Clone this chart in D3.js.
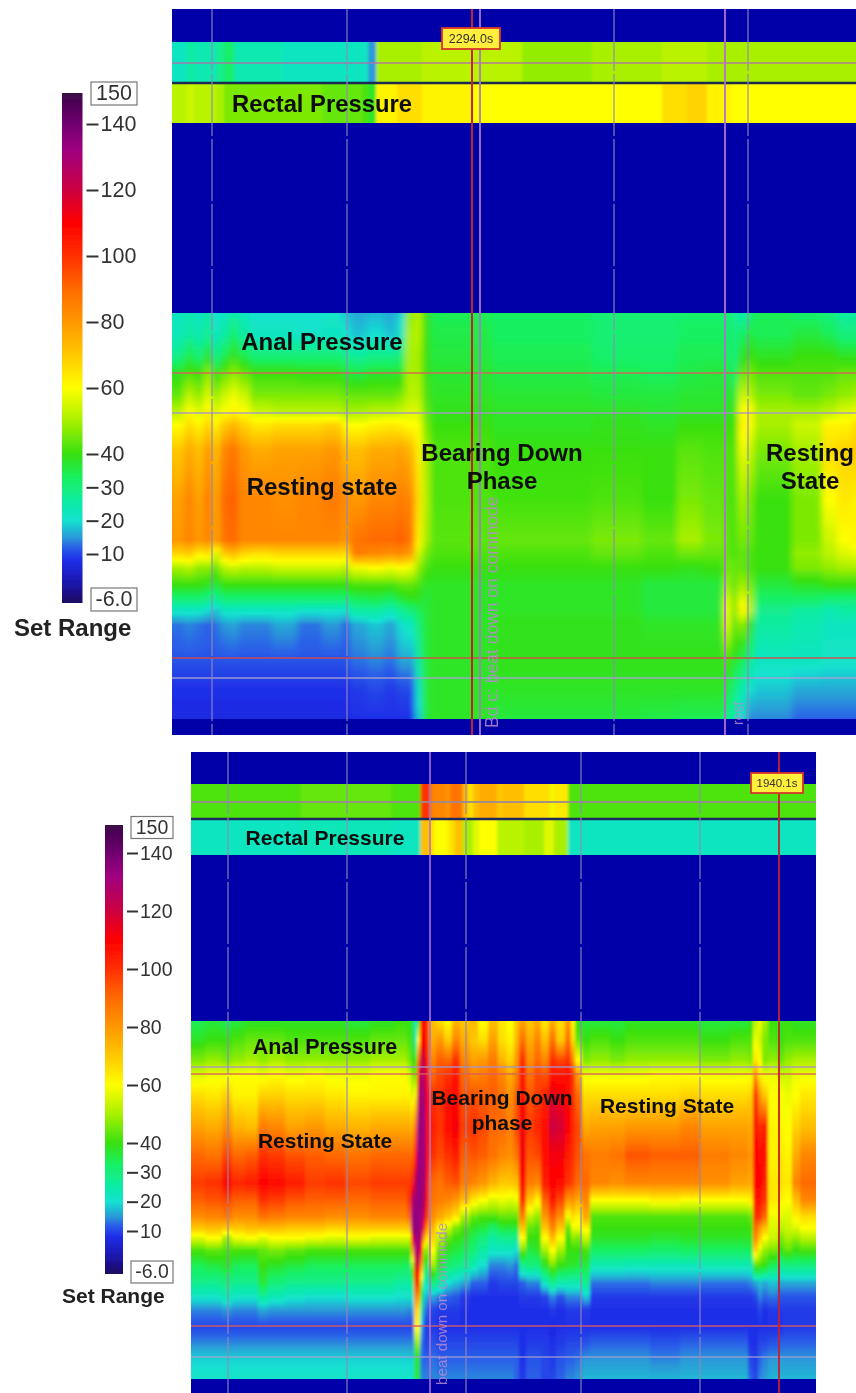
<!DOCTYPE html>
<html><head><meta charset="utf-8">
<script src="https://cdnjs.cloudflare.com/ajax/libs/d3/7.8.5/d3.min.js"></script>
<style>html,body{margin:0;padding:0;background:#fff}svg{display:block}text{font-family:"Liberation Sans",Arial,sans-serif}</style>
</head><body><svg id="c" width="856" height="1393"></svg>
<script>
// ---------- colour legend ----------
const colorValues=[-6,0,8,12,15,20,26,33,40,50,60,70,80,90,100,110,120,132,140,150];
const colorHexes=['#1c0a5e','#1a14a8','#1f2ee8','#2a60e8','#2a9ad8','#12e2d0','#10eca0','#18f060','#38e010','#a8f000','#ffff00','#ffc800','#ff9800','#ff6a00','#ff3000','#ff0000','#cc0040','#a00080','#700070','#3c0848'];
const legendTicks=[140,120,100,80,60,40,30,20,10];
const legendBreaks=[-6,10,40,140,150];

// ---------- first recording: rectal strip ----------
const rectal1Samples=[0,15,22,45,52,62,110,150,190,196,204,225,250,300,350,420,490,515,535,560];
const rectal1Upper=[22,26,24,28,32,24,22,22,22,15,50,50,52,52,48,50,52,52,50,50];
const rectal1Lower=[52,54,52,50,46,46,46,44,42,38,62,66,62,60,60,60,66,68,62,60];

// ---------- first recording: anal channels (sensor depth) ----------
const anal1Depths=[0,22,42,60,82,99,112,137,187,227,240,255,272,287,297,312,347,377,406];
const anal1Samples=[0,12,22,32,40,48,58,66,78,100,125,150,170,178,195,212,225,233,243,250,258,320,420,470,505,530,552,558,566,574,582,620,650,665,680];
const anal1Values=[
[22,23,28,38,44,52,60,70,78,80,68,50,40,30,22,13,11,8,7],
[24,26,34,42,52,60,66,76,84,84,70,52,40,30,22,14,11,8,7],
[22,24,30,40,48,56,62,72,78,80,64,48,40,30,22,13,11,8,7],
[26,28,38,48,56,62,68,80,86,84,66,48,38,28,20,12,11,8,7],
[20,22,28,38,48,56,62,72,78,78,56,44,36,26,18,13,11,8,7],
[22,26,34,44,54,60,70,84,90,88,70,52,40,30,22,15,11,8,7],
[26,32,40,48,58,62,74,88,92,90,74,54,40,30,22,16,11,8,7],
[22,26,34,44,54,60,68,80,84,84,68,52,40,30,22,14,11,8,7],
[20,22,30,40,46,54,64,76,84,84,66,52,40,30,22,14,11,8,7],
[20,22,30,40,46,52,66,78,82,84,68,54,40,30,22,16,11,8,7],
[20,21,30,39,46,52,66,78,84,84,68,54,40,30,21,13,11,8,7],
[21,22,30,39,46,52,68,80,86,84,68,54,40,30,21,15,11,8,7],
[18,21,28,37,44,50,60,72,82,80,66,52,40,30,21,12,11,8,7],
[16,18,26,35,44,50,60,72,80,88,86,58,42,33,26,16,13,9,8],
[17,20,28,37,44,52,62,76,84,90,84,60,42,34,26,18,14,10,8],
[16,18,28,37,44,52,64,76,84,90,82,58,42,32,24,16,13,9,8],
[19,22,30,37,46,54,62,78,86,92,84,60,44,36,28,20,16,10,8],
[48,50,50,50,52,56,60,74,84,88,80,58,44,38,30,22,16,10,8],
[52,52,50,50,52,56,60,62,66,62,56,48,42,38,34,30,26,22,18],
[40,40,40,40,42,44,46,50,52,50,46,42,38,36,36,36,36,36,36],
[34,35,36,37,38,39,40,42,42,43,42,40,38,38,38,38,38,38,38],
[33,33,34,35,37,38,38,40,41,44,42,40,38,38,38,39,39,38,36],
[31,31,32,34,36,38,39,40,42,46,44,40,38,38,38,39,39,38,36],
[31,31,32,33,36,37,38,40,40,44,42,40,36,36,36,38,39,38,35],
[32,33,34,35,37,38,40,43,46,50,45,39,36,36,36,38,39,38,34],
[32,33,34,36,37,38,40,42,44,46,44,40,36,36,36,38,39,38,34],
[32,33,34,36,38,39,40,42,42,44,44,46,50,58,60,58,42,36,30],
[28,30,30,32,36,38,40,42,42,42,42,44,44,46,46,44,38,30,24],
[24,32,38,44,54,60,62,58,50,46,44,44,50,58,62,48,34,24,20],
[30,36,40,46,52,62,60,54,46,44,42,42,46,50,52,40,28,20,14],
[34,34,38,42,46,50,50,46,40,40,40,40,36,32,28,26,22,18,14],
[32,36,40,42,44,50,54,50,46,46,48,46,38,32,26,24,22,16,12],
[30,34,40,42,46,52,62,66,60,54,52,48,40,30,24,22,21,16,12],
[26,30,38,44,48,56,62,68,64,60,56,50,40,30,26,22,21,16,12],
[26,30,38,44,50,58,66,70,62,62,58,50,40,30,26,22,21,16,12]];

// ---------- second recording: rectal strip ----------
const rectal2Samples=[0,110,200,229.5,239,243,255,259,264,271.5,277.7,281.8,288,306,312,333,353,359,363,377];
const rectal2Upper=[42,44,42,100,85,84,80,88,88,72,64,72,76,70,72,66,66,58,64,42];
const rectal2Lower=[22,23,22,72,66,60,62,66,72,50,50,56,60,52,52,50,56,56,50,22];

// ---------- second recording: anal channels ----------
const anal2Depths=[0,19,39,54,74,106,134,162,179,196,207,217,229,244,262,276,289,306,322,339,358];
const anal2Samples=[0,14,31,41,54,67,77,94,114,134,154,179,204,216,220,223,226,229,232,235,238,245,253,261,269,279,287,297,307,315,323,328,335,343,350,358,365,374,380,384,391,399,419,434,459,489,509,539,557,562,567,571,577,587,593,601,609];
const anal2Values=[
[34,38,46,56,66,78,90,98,92,82,70,56,42,34,28,21,14,10,14,19,21],
[36,40,48,58,64,76,88,100,94,84,72,60,44,36,28,21,14,10,14,19,21],
[34,40,46,58,68,82,96,108,96,86,70,50,42,38,30,24,15,10,14,19,21],
[36,42,48,60,62,74,90,102,92,82,70,58,42,34,28,21,14,10,14,19,21],
[38,44,50,60,62,72,92,104,92,82,72,60,42,34,28,21,14,10,14,19,21],
[38,44,48,58,68,86,100,110,100,88,72,56,44,40,36,26,16,10,14,19,21],
[38,44,50,60,68,84,98,108,98,86,72,60,46,38,30,23,15,10,14,19,21],
[38,42,48,58,66,78,94,104,94,84,70,60,44,36,28,21,15,10,14,19,21],
[38,42,48,60,66,80,92,98,92,84,70,58,42,34,28,20,15,10,14,19,21],
[38,42,48,58,64,76,90,100,92,82,68,56,42,34,28,20,15,10,14,19,21],
[36,42,48,58,62,74,88,96,90,82,70,58,42,34,28,21,15,10,14,19,21],
[38,44,50,60,62,76,90,98,92,84,70,56,42,34,28,21,15,10,14,19,21],
[40,44,50,60,62,76,90,98,92,84,70,56,42,34,26,20,15,10,14,19,21],
[38,42,46,56,62,76,90,98,100,90,72,56,42,32,26,20,14,10,14,19,21],
[38,38,40,46,56,74,90,104,125,132,130,110,80,50,30,22,16,10,14,19,21],
[22,24,38,46,62,90,105,125,134,134,134,134,130,120,100,85,70,60,46,38,36],
[40,60,90,110,122,132,132,134,134,134,134,132,128,118,100,80,65,62,50,38,36],
[105,110,122,128,132,134,134,134,134,132,130,120,105,80,50,36,26,18,14,13,14],
[110,110,118,124,128,130,130,128,124,118,100,76,50,36,24,18,14,10,10,12,14],
[100,100,104,108,110,108,108,106,104,96,78,62,46,34,22,16,12,9,10,12,14],
[72,76,84,90,100,104,100,90,88,82,74,68,60,50,30,16,10,9,11,13,14],
[66,80,92,96,100,100,96,88,86,76,60,52,44,38,26,14,9,8,10,12,14],
[60,70,90,100,106,108,100,92,84,70,54,44,38,32,20,12,9,8,10,12,14],
[74,84,100,106,108,112,104,94,80,64,46,40,36,30,18,11,9,8,10,12,14],
[70,76,84,90,94,98,92,86,72,50,42,38,34,28,16,9,8,8,10,12,14],
[74,70,78,84,94,100,94,84,64,44,38,34,30,24,12,8,8,8,10,12,14],
[60,66,80,86,92,96,92,80,60,42,36,30,26,20,12,8,8,8,10,12,14],
[72,78,86,90,92,90,88,74,56,42,32,26,22,14,9,8,8,8,10,12,14],
[64,66,74,84,88,90,84,70,58,44,36,28,22,14,10,8,8,8,10,12,14],
[60,62,68,76,82,86,82,70,56,44,36,28,22,15,10,8,8,8,10,12,14],
[70,74,80,86,92,96,88,72,58,44,36,28,20,13,10,8,8,8,10,12,12],
[78,88,100,105,106,112,112,108,100,84,70,60,46,28,12,9,8,8,8,8,9],
[70,76,82,88,94,98,94,86,70,52,44,40,36,30,14,9,8,8,9,11,12],
[76,84,90,96,98,102,96,84,62,48,42,40,38,30,14,9,8,8,9,11,12],
[64,72,84,94,102,108,108,104,92,80,70,60,50,38,22,10,8,8,9,10,10],
[76,88,100,106,115,120,112,110,106,92,84,72,60,46,28,14,9,7,8,9,10],
[66,70,96,106,112,118,112,108,96,82,70,60,50,40,24,11,8,8,9,11,12],
[80,88,100,108,108,110,104,100,80,58,44,40,40,38,24,14,9,8,10,12,14],
[60,66,84,100,100,102,100,96,82,66,58,48,40,38,24,14,9,8,10,12,14],
[38,44,60,78,90,96,94,90,76,62,58,46,40,36,24,14,9,8,10,13,15],
[36,40,46,58,66,76,88,90,84,76,62,54,42,36,28,18,9,8,11,15,17],
[36,42,48,58,66,78,86,84,60,42,40,38,33,24,13,9,8,8,12,15,17],
[36,40,46,58,66,78,88,82,60,42,40,38,33,24,13,9,8,8,12,15,17],
[38,42,48,58,66,80,94,84,60,42,40,38,33,23,13,9,8,8,12,15,17],
[38,42,48,60,66,80,92,84,62,42,40,37,32,23,14,9,8,8,11,14,17],
[38,42,48,60,68,84,92,84,60,42,40,38,33,23,14,9,8,8,12,15,17],
[36,40,46,58,66,78,86,82,60,42,40,38,33,24,13,9,8,8,12,15,17],
[36,42,48,58,66,78,84,78,60,42,40,38,33,24,13,9,8,8,12,15,17],
[38,42,46,58,68,76,80,76,62,44,40,38,34,24,14,9,8,8,8,10,12],
[52,58,64,80,100,108,110,110,106,100,90,84,68,44,16,10,8,8,8,9,10],
[58,54,60,62,80,100,108,110,106,98,80,70,56,42,18,14,10,8,10,12,14],
[50,46,46,58,70,104,108,104,100,90,72,60,48,40,16,12,8,8,10,14,15],
[40,42,48,58,60,62,62,64,64,58,56,54,46,34,18,13,9,8,11,15,17],
[38,40,44,54,60,62,64,66,62,56,52,46,40,28,16,11,9,8,12,15,17],
[40,42,48,54,58,60,62,64,60,56,54,50,44,30,16,11,9,9,12,15,17],
[38,42,50,58,60,68,76,84,72,62,56,48,40,30,16,11,9,9,12,15,17],
[38,42,50,58,64,72,84,90,84,66,60,52,42,30,16,11,9,9,12,15,17]];

const svg=d3.select('#c');
const defs=svg.append('defs');
[['hblur1','3 0'],['hblur2','1.5 0'],['soft','0.35']].forEach(([id,sd])=>{
  defs.append('filter').attr('id',id).attr('x','-3%').attr('y','-3%').attr('width','106%').attr('height','106%')
    .append('feGaussianBlur').attr('stdDeviation',sd);
});
const color=d3.scaleLinear().domain(colorValues).range(colorHexes).clamp(true);

function legend(o){
  const y=d3.scaleLinear().domain(legendBreaks).range(o.range);
  const id='lg'+o.id;
  const g=defs.append('linearGradient').attr('id',id).attr('gradientUnits','userSpaceOnUse')
    .attr('x1',0).attr('x2',0).attr('y1',y(-6)).attr('y2',y(150));
  colorValues.forEach(v=>g.append('stop').attr('offset',(y(v)-y(-6))/(y(150)-y(-6))).attr('stop-color',color(v)));
  const L=svg.append('g').attr('filter','url(#soft)');
  L.append('rect').attr('x',o.barX).attr('width',o.barW).attr('y',y(150)).attr('height',y(-6)-y(150)).attr('fill',`url(#${id})`);
  const ax=L.append('g').attr('transform',`translate(${o.barX+o.barW+4},0)`)
    .call(d3.axisRight(y).tickValues(legendTicks).tickSize(o.tick).tickPadding(o.pad));
  ax.select('.domain').remove();
  ax.selectAll('.tick line').attr('stroke','#333').attr('stroke-width',2);
  ax.selectAll('.tick text').attr('fill','#333').style('font-size',o.font+'px').style('font-family','"Liberation Sans",Arial,sans-serif');
  [['150',o.boxTop],['-6.0',o.boxBottom]].forEach(([t,by])=>{
    L.append('rect').attr('x',o.boxX).attr('y',by).attr('width',o.boxW).attr('height',o.boxH).attr('fill','#fff').attr('stroke','#777').attr('stroke-width',1.2);
    L.append('text').attr('x',o.boxX+o.boxW/2).attr('y',by+o.boxH-5).attr('text-anchor','middle').attr('font-size',o.font).attr('fill','#333').text(t);
  });
  L.append('text').attr('x',o.setX).attr('y',o.setY).attr('font-weight','bold').attr('font-size',o.setFont).attr('fill','#222').text('Set Range');
}
legend({id:1,range:[603,554,454,124,93],barX:62,barW:20.5,tick:12,pad:2,font:21.5,boxX:91,boxW:46,boxH:23,boxTop:82,boxBottom:588,setX:14,setY:636,setFont:24});
legend({id:2,range:[1274,1231,1143,853,825],barX:105,barW:18,tick:11,pad:2,font:19.5,boxX:131,boxW:42,boxH:22,boxTop:816.5,boxBottom:1261,setX:62,setY:1303,setFont:21});

function panel(o){
  const id=o.id;
  defs.append('clipPath').attr('id','clip'+id).append('rect').attr('x',o.x0).attr('y',o.y0).attr('width',o.x1-o.x0).attr('height',o.y1-o.y0);
  const x=d3.scaleLinear().domain([0,o.x1-o.x0]).range([o.x0,o.x1]);
  const root=svg.append('g').attr('clip-path',`url(#clip${id})`);
  root.append('rect').attr('x',o.x0).attr('y',o.y0).attr('width',o.x1-o.x0).attr('height',o.y1-o.y0).attr('fill','#0000a8');

  // rectal strip
  const st=root.append('g').attr('filter','url(#hblur2)');
  [[o.rectalUpper,o.upperBand],[o.rectalLower,o.lowerBand]].forEach(([vals,band])=>{
    st.selectAll(null).data(o.rectalSamples).join('rect')
      .attr('x',(d,i)=>i?x(d):x(d)-12)
      .attr('width',(d,i)=>(i<o.rectalSamples.length-1?x(o.rectalSamples[i+1]):o.x1+12)-(i?x(d):x(d)-12)+.5)
      .attr('y',band[0]).attr('height',band[1]-band[0])
      .attr('fill',(d,i)=>color(vals[i]));
  });

  // anal channels: one column per sample, vertical gradient through depths
  const yD=d3.scaleLinear().domain([0,o.depths[o.depths.length-1]]).range(o.analBand);
  const an=root.append('g').attr('filter',`url(#${o.blur})`);
  const sub=4;
  o.values.forEach((col,c)=>{
    const g=defs.append('linearGradient').attr('id',`col${id}_${c}`).attr('x1',0).attr('x2',0).attr('y1',0).attr('y2',1);
    const D=o.depths[o.depths.length-1];
    col.forEach((v,r)=>{
      if(r===col.length-1){g.append('stop').attr('offset',1).attr('stop-color',color(v));return;}
      for(let s=0;s<sub;s++){
        const t=s/sub;
        const val=v+(col[r+1]-v)*t, dp=o.depths[r]+(o.depths[r+1]-o.depths[r])*t;
        g.append('stop').attr('offset',dp/D).attr('stop-color',color(val));
      }
    });
    const s=o.samples[c], left=c?x(s):x(s)-12, right=c<o.samples.length-1?x(o.samples[c+1]):o.x1+12;
    an.append('rect').attr('x',left).attr('width',right-left+.5).attr('y',yD(0)).attr('height',yD(D)-yD(0)).attr('fill',`url(#col${id}_${c})`);
  });

  // overlays
  const ov=svg.append('g').attr('filter','url(#soft)');
  o.hLines.forEach(l=>ov.append('line').attr('x1',o.x0).attr('x2',o.x1).attr('y1',l[0]).attr('y2',l[0]).attr('stroke',l[1]).attr('stroke-width',l[2]).attr('stroke-opacity',l[3]));
  o.dashed.forEach(v=>ov.append('line').attr('x1',v).attr('x2',v).attr('y1',o.y0).attr('y2',o.y1).attr('stroke','#9088b8').attr('stroke-width',1.5).attr('stroke-dasharray','62 3').attr('stroke-opacity',.75));
  o.solid.forEach(l=>ov.append('line').attr('x1',l[0]).attr('x2',l[0]).attr('y1',o.y0).attr('y2',o.y1).attr('stroke',l[1]).attr('stroke-width',l[2]));
  o.vtext.forEach(t=>ov.append('text').attr('transform',`translate(${t[0]},${t[1]}) rotate(-90)`).attr('font-size',t[3]).attr('fill','#b888d0').attr('fill-opacity',.85).text(t[2]));
  ov.append('rect').attr('x',o.tag[0]).attr('y',o.tag[1]).attr('width',o.tag[2]).attr('height',o.tag[3]).attr('fill','#ffee3a').attr('stroke','#d8342a').attr('stroke-width',1.8);
  ov.append('text').attr('x',o.tag[0]+o.tag[2]/2).attr('y',o.tag[1]+o.tag[3]-6).attr('text-anchor','middle').attr('font-size',o.tag[5]).attr('fill','#333').text(o.tag[4]);
  o.labels.forEach(t=>ov.append('text').attr('x',t[0]).attr('y',t[1]).attr('text-anchor','middle').attr('font-weight','bold').attr('font-size',t[3]).attr('fill','#0c0c0c').text(t[2]));
}

panel({id:1,x0:172,x1:856,y0:9,y1:735,blur:'hblur1',
  rectalSamples:rectal1Samples,rectalUpper:rectal1Upper,rectalLower:rectal1Lower,upperBand:[42,83],lowerBand:[84,123],
  depths:anal1Depths,samples:anal1Samples,values:anal1Values,analBand:[313,719],
  hLines:[[63,'#b070a8',1.5,.9],[83,'#1c2a50',2.5,1],[373,'#d8605c',1.3,.9],[413,'#a894c8',1.5,.9],[658,'#d84848',1.5,.9],[678,'#a8a0d0',1.6,.9]],
  dashed:[212,347,614,748],
  solid:[[480,'#a878c8',1.8],[472,'#c8202c',2],[725,'#b070d0',1.8]],
  vtext:[[498,728,'Bd c: beat down on commode',17.5],[743,725,'rest',14]],
  tag:[442,28,58,21,'2294.0s',12.5],
  labels:[[322,112,'Rectal Pressure',23.8],[322,350,'Anal Pressure',24],[322,495,'Resting state',24],[502,461,'Bearing Down',24],[502,489,'Phase',24],[810,461,'Resting',24],[810,489,'State',24]]
});
panel({id:2,x0:191,x1:816,y0:752,y1:1393,blur:'hblur2',
  rectalSamples:rectal2Samples,rectalUpper:rectal2Upper,rectalLower:rectal2Lower,upperBand:[784,818],lowerBand:[820,855],
  depths:anal2Depths,samples:anal2Samples,values:anal2Values,analBand:[1021,1379],
  hLines:[[802,'#9a8a90',1.8,.9],[819,'#1c2a60',2.5,1],[1067,'#a894c8',1.5,.9],[1074,'#d8605c',1.3,.9],[1326,'#d85c60',1.3,.9],[1357,'#a8a0d0',1.4,.8]],
  dashed:[228,347,466,581,700],
  solid:[[430,'#b070d0',1.6],[779,'#c8202c',1.8]],
  vtext:[[447,1385,'beat down on commode',15.2]],
  tag:[751,773,52,20,'1940.1s',11.5],
  labels:[[325,845,'Rectal Pressure',21],[325,1054,'Anal Pressure',21.5],[325,1148,'Resting State',21],[502,1105,'Bearing Down',21],[502,1130,'phase',21],[667,1113,'Resting State',21]]
});
</script></body></html>
